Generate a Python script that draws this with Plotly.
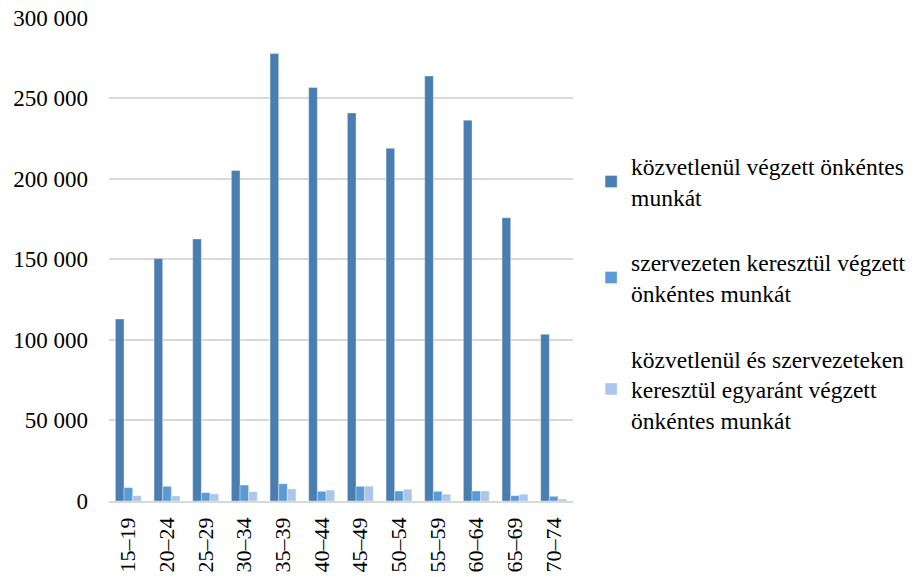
import plotly.graph_objects as go

categories = ["15–19", "20–24", "25–29", "30–34", "35–39", "40–44",
              "45–49", "50–54", "55–59", "60–64", "65–69", "70–74"]
kozvetlen = [112900, 150400, 162600, 205000, 277600, 256600,
             240700, 218800, 263700, 236300, 175700, 103400]
szervezeten = [8300, 9100, 5200, 9900, 10700, 6000,
               9100, 6200, 6000, 6200, 3300, 2900]
mindketto = [3300, 3100, 4400, 5800, 7500, 6800,
             9200, 7300, 4200, 6200, 4200, 1200]

names = ["közvetlenül végzett önkéntes<br>munkát",
         "szervezeten keresztül végzett<br>önkéntes munkát",
         "közvetlenül és szervezeteken<br>keresztül egyaránt végzett<br>önkéntes munkát"]
colors = ["#4A7DB0", "#5B9BD5", "#ABC6E8"]
series = [kozvetlen, szervezeten, mindketto]

FONT = "Liberation Serif"

fig = go.Figure()
for i, (nm, col, vals) in enumerate(zip(names, colors, series)):
    fig.add_trace(go.Bar(
        x=categories, y=vals, name=nm, legendgroup=f"g{i}",
        marker=dict(color=col, line=dict(color="rgba(255,255,255,0.6)", width=0.6)),
    ))

fig.update_layout(
    width=914, height=577,
    paper_bgcolor="white", plot_bgcolor="white",
    margin=dict(l=109, r=341, t=17, b=76, autoexpand=False),
    barmode="group", bargap=0.33, bargroupgap=0,
    font=dict(family=FONT, size=22, color="black"),
    showlegend=True,
    legend=dict(x=1.039, xanchor="left", y=0.43, yanchor="middle",
                font=dict(family=FONT, size=23.5, color="black"),
                tracegroupgap=32, itemwidth=30,
                bgcolor="rgba(0,0,0,0)"),
    xaxis=dict(showgrid=False, showline=True, linecolor="#D9D9D9", linewidth=1.5,
               tickangle=-90, ticks="", ticklabelstandoff=6, automargin=False,
               ticklabeloverflow="allow",
               tickfont=dict(family=FONT, size=22, color="black")),
    yaxis=dict(range=[0, 300300], tickvals=[0, 50000, 100000, 150000, 200000, 250000, 300000],
               ticktext=["0", "50 000", "100 000", "150 000", "200 000", "250 000", "300 000"],
               showgrid=True, gridcolor="#D9D9D9", gridwidth=1.5,
               zeroline=False, showline=False, ticks="", automargin=False,
               ticklabelstandoff=20, ticklabeloverflow="allow",
               tickfont=dict(family=FONT, size=23, color="black")),
)

fig.write_html("out.html", config={"displayModeBar": False},
               post_script="document.body.style.margin='0';")
